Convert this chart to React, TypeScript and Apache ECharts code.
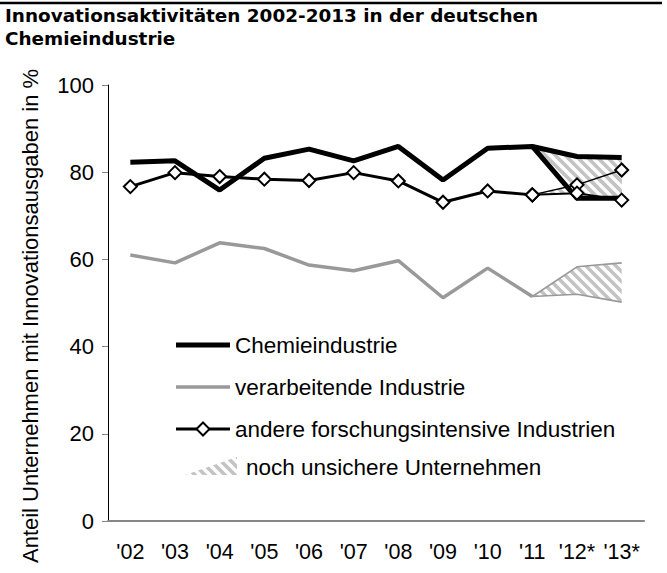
import React, { useEffect, useRef } from "react";
import * as echarts from "echarts";

const categories = ["'02", "'03", "'04", "'05", "'06", "'07", "'08", "'09", "'10", "'11", "'12*", "'13*"];
const N = null;
// Chemieindustrie (upper scenario continues the main line)
const chemie = [82.3, 82.6, 75.9, 83.2, 85.3, 82.6, 85.9, 78.2, 85.5, 85.9, 83.6, 83.4];
const chemieLower = [N, N, N, N, N, N, N, N, N, 85.9, 74.0, 74.0];
// verarbeitende Industrie
const verarbeitend = [61.0, 59.2, 63.8, 62.5, 58.7, 57.4, 59.7, 51.2, 58.0, 51.5, N, N];
const verarbeitendUpper = [N, N, N, N, N, N, N, N, N, 51.5, 58.3, 59.2];
const verarbeitendLower = [N, N, N, N, N, N, N, N, N, 51.5, 52.0, 50.2];
// andere forschungsintensive Industrien
const andere = [76.7, 79.9, 79.0, 78.4, 78.1, 79.9, 78.0, 73.1, 75.7, 74.8, N, N];
const andereUpper = [N, N, N, N, N, N, N, N, N, 74.8, 77.1, 80.5];
const andereLower = [N, N, N, N, N, N, N, N, N, 74.8, 75.2, 73.6];

const yMin = 0;
const yMax = 100;
const yInterval = 20;

const titleLines = ["Innovationsaktivitäten 2002-2013 in der deutschen", "Chemieindustrie"];
const yAxisName = "Anteil Unternehmen mit Innovationsausgaben in %";
const legendNames = ["Chemieindustrie", "verarbeitende Industrie", "andere forschungsintensive Industrien", "noch unsichere Unternehmen"];

const FONT = "'Liberation Sans', Arial, sans-serif";
const TITLE_FONT = "bold 18.4px 'DejaVu Sans', Verdana, sans-serif";
const LEGEND_FONT = `22.5px ${FONT}`;

function makeRegion(upper: (number | null)[], lower: (number | null)[]) {
  return [
    [9, upper[9]],
    [10, upper[10]],
    [11, upper[11]],
    [11, lower[11]],
    [10, lower[10]],
  ];
}

export default function App() {
  const ref = useRef<HTMLDivElement>(null);
  useEffect(() => {
    document.body.style.margin = "0";
    if (!ref.current) return;
    const chart = echarts.init(ref.current, null, { renderer: "svg" });

    const tile = document.createElement("canvas");
    tile.width = 10;
    tile.height = 10;
    const ctx = tile.getContext("2d")!;
    ctx.strokeStyle = "#c3c3c3";
    ctx.lineWidth = 3.6;
    ctx.beginPath();
    ctx.moveTo(-5, -5); ctx.lineTo(15, 15);
    ctx.moveTo(5, -5); ctx.lineTo(15, 5);
    ctx.moveTo(-5, 5); ctx.lineTo(5, 15);
    ctx.stroke();
    const pattern: any = { image: tile, repeat: "repeat", imageWidth: 10, imageHeight: 10 };

    const regions = [
      makeRegion(verarbeitendUpper, verarbeitendLower),
      makeRegion(andereUpper, andereLower),
      makeRegion(chemie, chemieLower),
    ];

    const diamond = {
      symbol: "diamond",
      symbolSize: 13,
      showSymbol: true,
      itemStyle: { color: "#ffffff", borderColor: "#000000", borderWidth: 2 },
    };

    const legendX1 = 176;
    const legendX2 = 230;
    const textX = 235;
    const rows = [345, 387, 429, 467];

    const option: any = {
      animation: false,
      backgroundColor: "#ffffff",
      textStyle: { fontFamily: FONT },
      grid: { left: 108, right: 23, top: 85, bottom: 52, containLabel: false },
      xAxis: {
        type: "category",
        data: categories,
        boundaryGap: true,
        axisLine: { show: true, lineStyle: { color: "#868686", width: 2 } },
        axisTick: { show: false },
        axisLabel: { color: "#000", fontSize: 21.5, fontFamily: FONT, margin: 20, interval: 0 },
        splitLine: { show: false },
      },
      yAxis: {
        type: "value",
        min: yMin,
        max: yMax,
        interval: yInterval,
        axisLine: { show: true, lineStyle: { color: "#000", width: 1 } },
        axisTick: { show: true, inside: false, length: 6, lineStyle: { color: "#868686", width: 1 } },
        axisLabel: { color: "#000", fontSize: 22, fontFamily: FONT, margin: 14 },
        splitLine: { show: false },
      },
      series: [
        {
          type: "custom",
          name: legendNames[3],
          silent: true,
          z: 1,
          data: regions.map((r, i) => [9, i]),
          encode: { x: 0 },
          renderItem: (params: any, api: any) => {
            const r = regions[params.dataIndex];
            const pts = r.map((p) => api.coord([p[0], p[1]]));
            return { type: "polygon", shape: { points: pts }, style: { fill: pattern, stroke: null } };
          },
        },
        {
          type: "line", name: legendNames[1], data: verarbeitend, z: 2, showSymbol: false, symbol: "none",
          lineStyle: { color: "#999999", width: 3.5 }, itemStyle: { color: "#999999" },
        },
        {
          type: "line", name: legendNames[1] + " (oben)", data: verarbeitendUpper, z: 2, symbol: "none",
          lineStyle: { color: "#999999", width: 1.6 },
        },
        {
          type: "line", name: legendNames[1] + " (unten)", data: verarbeitendLower, z: 2, symbol: "none",
          lineStyle: { color: "#999999", width: 1.6 },
        },
        {
          type: "line", name: legendNames[0], data: chemie, z: 3, symbol: "none",
          lineStyle: { color: "#000", width: 5 },
        },
        {
          type: "line", name: legendNames[0] + " (unten)", data: chemieLower, z: 3, symbol: "none",
          lineStyle: { color: "#000", width: 5 },
        },
        {
          type: "line", name: legendNames[2], data: andere, z: 4, ...diamond,
          lineStyle: { color: "#000", width: 3 },
        },
        {
          type: "line", name: legendNames[2] + " (oben)", data: andereUpper, z: 4, ...diamond,
          lineStyle: { color: "#000", width: 1.5 },
        },
        {
          type: "line", name: legendNames[2] + " (unten)", data: andereLower, z: 4, ...diamond,
          lineStyle: { color: "#000", width: 2 },
        },
      ],
      graphic: [
        { type: "line", shape: { x1: 0, y1: 3, x2: 662, y2: 3 }, style: { stroke: "#000", lineWidth: 2.5 } },
        {
          type: "text", x: 5, y: 15,
          style: { text: titleLines[0], font: TITLE_FONT, fill: "#000", textVerticalAlign: "middle", verticalAlign: "middle" },
        },
        {
          type: "text", x: 5, y: 38,
          style: { text: titleLines[1], font: TITLE_FONT, fill: "#000", textVerticalAlign: "middle", verticalAlign: "middle" },
        },
        {
          type: "text", x: 30, y: 316, rotation: Math.PI / 2,
          style: { text: yAxisName, font: `22px ${FONT}`, fill: "#000", textAlign: "center", textVerticalAlign: "middle", verticalAlign: "middle" },
        },
        // legend
        { type: "line", shape: { x1: legendX1, y1: rows[0], x2: legendX2, y2: rows[0] }, style: { stroke: "#000", lineWidth: 5 } },
        { type: "text", x: textX, y: rows[0], style: { text: legendNames[0], font: LEGEND_FONT, fill: "#000", textVerticalAlign: "middle", verticalAlign: "middle" } },
        { type: "line", shape: { x1: legendX1, y1: rows[1], x2: legendX2, y2: rows[1] }, style: { stroke: "#999999", lineWidth: 3.5 } },
        { type: "text", x: textX, y: rows[1], style: { text: legendNames[1], font: LEGEND_FONT, fill: "#000", textVerticalAlign: "middle", verticalAlign: "middle" } },
        { type: "line", shape: { x1: legendX1, y1: rows[2], x2: legendX2, y2: rows[2] }, style: { stroke: "#000", lineWidth: 3 } },
        {
          type: "polygon", shape: { points: [[203, rows[2] - 6.5], [209.5, rows[2]], [203, rows[2] + 6.5], [196.5, rows[2]]] },
          style: { fill: "#fff", stroke: "#000", lineWidth: 2 },
        },
        { type: "text", x: textX, y: rows[2], style: { text: legendNames[2], font: LEGEND_FONT, fill: "#000", textVerticalAlign: "middle", verticalAlign: "middle" } },
        {
          type: "polygon", shape: { points: [[185, rows[3] + 8], [237, rows[3] - 10], [237, rows[3] + 8]] },
          style: { fill: pattern, stroke: null },
        },
        { type: "text", x: 246, y: rows[3], style: { text: legendNames[3], font: LEGEND_FONT, fill: "#000", textVerticalAlign: "middle", verticalAlign: "middle" } },
      ],
    };
    chart.setOption(option);
    return () => chart.dispose();
  }, []);
  return <div ref={ref} style={{ width: 667, height: 573 }} />;
}
